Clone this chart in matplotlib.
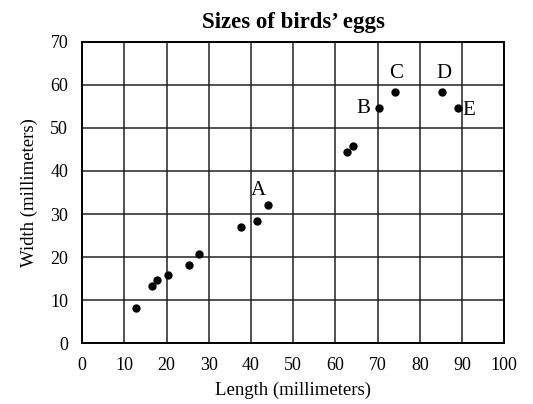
import matplotlib
matplotlib.use("Agg")
import matplotlib.pyplot as plt

# egg length / width in millimeters
lengths = [12.8, 16.5, 17.8, 20.3, 25.3, 27.8, 37.7, 41.5, 44.0, 62.8, 64.2, 70.4, 74.1, 85.3, 89.0]
widths = [8.2, 13.3, 14.6, 15.8, 18.3, 20.8, 27.0, 28.4, 32.0, 44.5, 45.7, 54.5, 58.2, 58.2, 54.5]

# labelled eggs
labels = ["A", "B", "C", "D", "E"]
label_x = [44.0, 70.4, 74.1, 85.3, 89.0]
label_y = [32.0, 54.5, 58.2, 58.2, 54.5]
label_offsets = [(-7, 10.5), (-11.5, 0), (0.5, 14), (1, 14), (8, -1.5)]

plt.rcParams["font.family"] = ["Liberation Serif", "DejaVu Serif"]

fig = plt.figure(figsize=(5.33, 4.04), dpi=100)
ax = fig.add_axes([0.154, 0.150, 0.792, 0.747])

ax.scatter(lengths, widths, s=36, color="black", zorder=3, linewidths=0)

for name, x, y, (dx, dy) in zip(labels, label_x, label_y, label_offsets):
    ax.annotate(name, (x, y), xytext=(dx, dy), textcoords="offset points",
                ha="center", va="center", fontsize=15)

ax.set_xlim(0, 100)
ax.set_ylim(0, 70)
ax.set_xticks(range(0, 101, 10))
ax.set_yticks(range(0, 71, 10))
ax.tick_params(length=0, labelsize=13, pad=10)
ax.grid(True, color="#222222", linewidth=1.1)
ax.set_axisbelow(True)
for spine in ax.spines.values():
    spine.set_linewidth(1.4)

ax.set_xlabel("Length (millimeters)", fontsize=13.5, labelpad=5)
ax.set_ylabel("Width (millimeters)", fontsize=13.5, labelpad=9)
ax.set_title("Sizes of birds\u2019 eggs", fontsize=16.5, fontweight="bold", pad=10)

fig.savefig("out.png", dpi=100)
